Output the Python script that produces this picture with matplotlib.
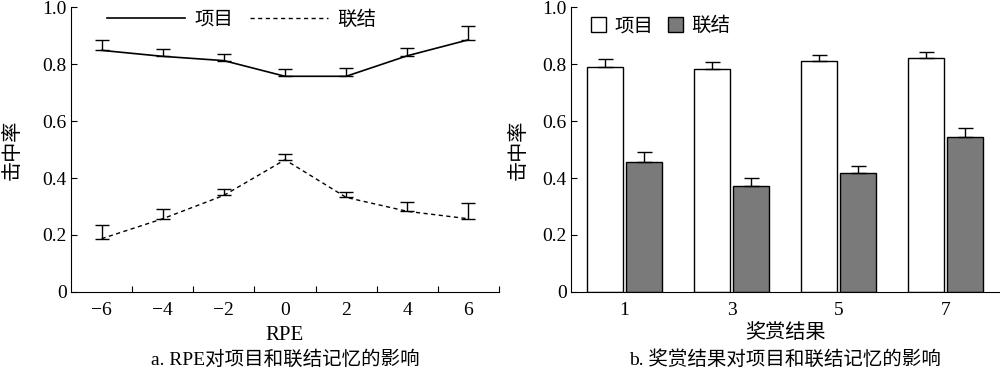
import numpy as np
import matplotlib.pyplot as plt
from matplotlib.patches import Patch
from matplotlib.lines import Line2D

plt.rcParams['font.family'] = ['Liberation Serif', 'Noto Sans CJK SC']
plt.rcParams['axes.unicode_minus'] = True

# panel a
rpe = [-6, -4, -2, 0, 2, 4, 6]
item_a = [0.848, 0.827, 0.812, 0.757, 0.757, 0.829, 0.885]
item_a_err = [0.037, 0.027, 0.022, 0.024, 0.030, 0.027, 0.047]
assoc_a = [0.187, 0.257, 0.339, 0.464, 0.332, 0.283, 0.257]
assoc_a_err = [0.049, 0.034, 0.022, 0.020, 0.018, 0.034, 0.056]

# panel b
outcome = ['1', '3', '5', '7']
item_b = [0.791, 0.784, 0.812, 0.820]
item_b_err = [0.027, 0.024, 0.021, 0.022]
assoc_b = [0.455, 0.372, 0.416, 0.545]
assoc_b_err = [0.036, 0.028, 0.027, 0.032]

yticks = [0, 0.2, 0.4, 0.6, 0.8, 1.0]
ytick_labels = ['0', '0.2', '0.4', '0.6', '0.8', '1.0']

fig = plt.figure(figsize=(10, 3.71), dpi=100)
ax1 = fig.add_axes([0.071, 0.213, 0.428, 0.768])
ax2 = fig.add_axes([0.571, 0.213, 0.428, 0.768])

for ax in (ax1, ax2):
    ax.spines['top'].set_visible(False)
    ax.spines['right'].set_visible(False)
    ax.set_ylim(0, 1.0)
    ax.set_yticks(yticks)
    ax.set_yticklabels(ytick_labels)
    ax.tick_params(axis='y', direction='in', length=4, labelsize=14, pad=3)
    ax.set_ylabel('击中率', fontsize=14.5)
ax1.yaxis.set_label_coords(-0.112, 0.5)
ax2.yaxis.set_label_coords(-0.100, 0.5)

# --- panel a
ax1.errorbar(rpe, item_a, yerr=[np.zeros(len(rpe)), item_a_err], color='black',
             lw=1.2, capsize=4.7, elinewidth=1.0, capthick=1.0, ls='-')
ax1.errorbar(rpe, assoc_a, yerr=[np.zeros(len(rpe)), assoc_a_err], color='black',
             lw=1.0, capsize=4.7, elinewidth=1.0, capthick=1.0, ls=(0, (3, 2.5)))
ax1.set_xlim(-7, 7)
ax1.set_xticks([-5, -3, -1, 1, 3, 5, 7])
ax1.set_xticklabels([])
ax1.set_xticks(rpe, minor=True)
ax1.set_xticklabels([str(v).replace('-', '\u2212') for v in rpe], minor=True)
ax1.tick_params(axis='x', which='major', direction='in', length=4)
ax1.tick_params(axis='x', which='minor', length=0, labelsize=14, pad=7)
ax1.set_xlabel('RPE', fontsize=15, labelpad=5)
ax1.text(0.5, -0.238, 'a. RPE对项目和联结记忆的影响', transform=ax1.transAxes,
         ha='center', va='center', fontsize=14)
h1 = [Line2D([], [], color='black', lw=1.2),
      Line2D([], [], color='black', lw=1.0, ls=(0, (3, 2.5)))]
ax1.legend(h1, ['项目', '联结'], ncol=2, frameon=False, fontsize=14,
           loc='upper left', bbox_to_anchor=(0.043, 1.05), handlelength=4.0,
           handletextpad=0.5, columnspacing=0.85)

# --- panel b
x = np.arange(len(outcome))
w = 0.336
ax2.bar(x - 0.186, item_b, w, color='white', edgecolor='black', lw=1.0,
        yerr=[np.zeros(len(x)), item_b_err], capsize=5.4,
        error_kw=dict(elinewidth=1.0, capthick=1.0))
ax2.bar(x + 0.186, assoc_b, w, color='#7a7a7a', edgecolor='black', lw=1.0,
        yerr=[np.zeros(len(x)), assoc_b_err], capsize=5.4,
        error_kw=dict(elinewidth=1.0, capthick=1.0))
ax2.set_xlim(-0.5, 3.5)
ax2.set_xticks(x)
ax2.set_xticklabels(outcome)
ax2.tick_params(axis='x', length=0, labelsize=14, pad=7)
ax2.set_xlabel('奖赏结果', fontsize=14.5, labelpad=4)
ax2.text(0.5, -0.238, 'b. 奖赏结果对项目和联结记忆的影响', transform=ax2.transAxes,
         ha='center', va='center', fontsize=14)
h2 = [Patch(facecolor='white', edgecolor='black'),
      Patch(facecolor='#7a7a7a', edgecolor='black')]
ax2.legend(h2, ['项目', '联结'], ncol=2, frameon=False, fontsize=14,
           loc='upper left', bbox_to_anchor=(0.006, 1.027), handlelength=0.75,
           handleheight=0.75, handletextpad=0.45, columnspacing=0.75)

fig.savefig('out.png', dpi=100)
